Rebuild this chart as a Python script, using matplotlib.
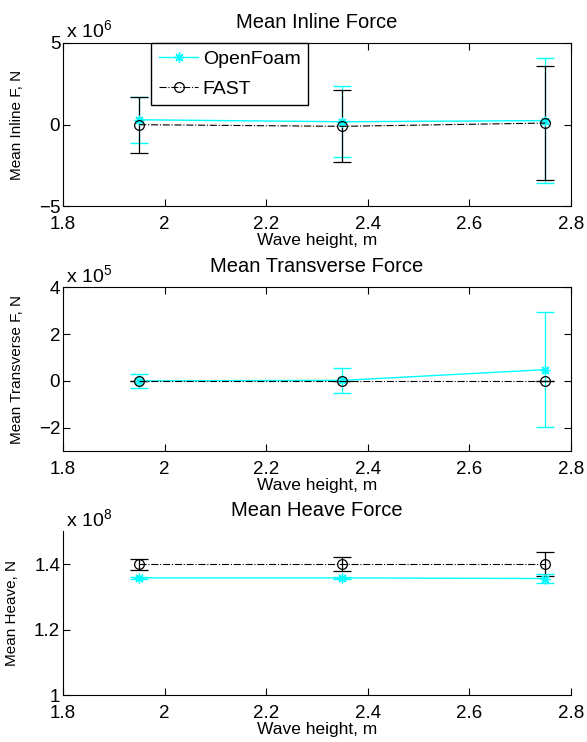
import numpy as np
import matplotlib
matplotlib.use("Agg")
import matplotlib.pyplot as plt
from matplotlib.lines import Line2D

plt.rcParams["font.family"] = ["Liberation Sans", "DejaVu Sans"]
plt.rcParams["mathtext.fontset"] = "custom"
plt.rcParams["mathtext.rm"] = "Liberation Sans"
plt.rcParams["mathtext.it"] = "Liberation Sans"

wave_height = [1.95, 2.35, 2.75]

# inline force (x 1e6 N)
inline_of = [0.3, 0.18, 0.25]
inline_of_err = [1.4, 2.17, 3.8]
inline_fast = [0.0, -0.1, 0.1]
inline_fast_err = [1.7, 2.2, 3.5]

# transverse force (x 1e5 N)
trans_of = [0.0, 0.02, 0.48]
trans_of_err = [0.31, 0.54, 2.45]
trans_fast = [0.0, 0.0, 0.0]
trans_fast_err = [0.0, 0.0, 0.0]

# heave force (x 1e8 N)
heave_of = [1.358, 1.358, 1.356]
heave_of_err = [0.003, 0.004, 0.014]
heave_fast = [1.400, 1.400, 1.400]
heave_fast_err = [0.017, 0.021, 0.037]

panels = [
    ("Mean Inline Force", "Mean Inline F, N", 6, inline_of, inline_of_err,
     inline_fast, inline_fast_err, (-5, 5), [-5, 0, 5], ["\u22125", "0", "5"]),
    ("Mean Transverse Force", "Mean Transverse F, N", 5, trans_of, trans_of_err,
     trans_fast, trans_fast_err, (-3, 4), [-2, 0, 2, 4], ["\u22122", "0", "2", "4"]),
    ("Mean Heave Force", "Mean Heave, N", 8, heave_of, heave_of_err,
     heave_fast, heave_fast_err, (1, 1.5), [1, 1.2, 1.4], ["1", "1.2", "1.4"]),
]

fig = plt.figure(figsize=(5.87, 7.42), dpi=100)
bottoms = [0.7217, 0.3922, 0.0633]
ylabel_x = [-0.077, -0.076, -0.087]
asterisk = (8, 2, 0)

for i, (title, ylab, expo, of, of_err, fast, fast_err, ylim, yt, ytl) in enumerate(panels):
    ax = fig.add_axes([0.1073, bottoms[i], 0.865, 0.2205])
    ax.errorbar(wave_height, of, yerr=of_err, color="cyan", marker=asterisk,
                markersize=7, lw=1.0, capsize=6.5, elinewidth=0.9)
    ax.errorbar(wave_height, fast, yerr=fast_err, color="black", marker="o",
                markersize=7, mfc="none", mew=0.9, ls="-.", lw=0.8,
                capsize=6.5, elinewidth=0.9)
    ax.set_xlim(1.8, 2.8)
    ax.set_ylim(*ylim)
    ax.set_xticks([1.8, 2.0, 2.2, 2.4, 2.6, 2.8])
    ax.set_xticklabels(["1.8", "2", "2.2", "2.4", "2.6", "2.8"])
    ax.set_yticks(yt)
    ax.set_yticklabels(ytl)
    if i < 2:
        ax.tick_params(direction="in", top=True, right=True, length=5,
                       labelsize=13.5, pad=2)
    else:
        for s in ("top", "right"):
            ax.spines[s].set_visible(False)
        ax.tick_params(direction="in", length=5, labelsize=13.5, pad=2)
    ax.tick_params(axis="x", pad=7)
    ax.set_title(title, fontsize=14.5, pad=11)
    ax.set_xlabel("Wave height, m", fontsize=12.5, labelpad=0)
    ax.set_ylabel(ylab, fontsize=11)
    ax.yaxis.set_label_coords(ylabel_x[i], 0.5)
    ax.text(0.006, 1.033, r"x 10$^{%d}$" % expo, transform=ax.transAxes,
            fontsize=14, ha="left", va="baseline")
    if i == 0:
        handles = [
            Line2D([], [], color="cyan", marker=asterisk, markersize=7, lw=1.0),
            Line2D([], [], color="black", marker="o", markersize=7, mfc="none",
                   mew=0.9, ls="-.", lw=0.8),
        ]
        leg = ax.legend(handles, ["OpenFoam", "FAST"], loc="upper left",
                        bbox_to_anchor=(0.174, 1.0), borderaxespad=0,
                        fontsize=14, fancybox=False, framealpha=1,
                        edgecolor="black", handlelength=2.0,
                        handletextpad=0.25, labelspacing=0.6, borderpad=0.4)
        leg.get_frame().set_linewidth(1.0)

fig.savefig("out.png", dpi=100)
